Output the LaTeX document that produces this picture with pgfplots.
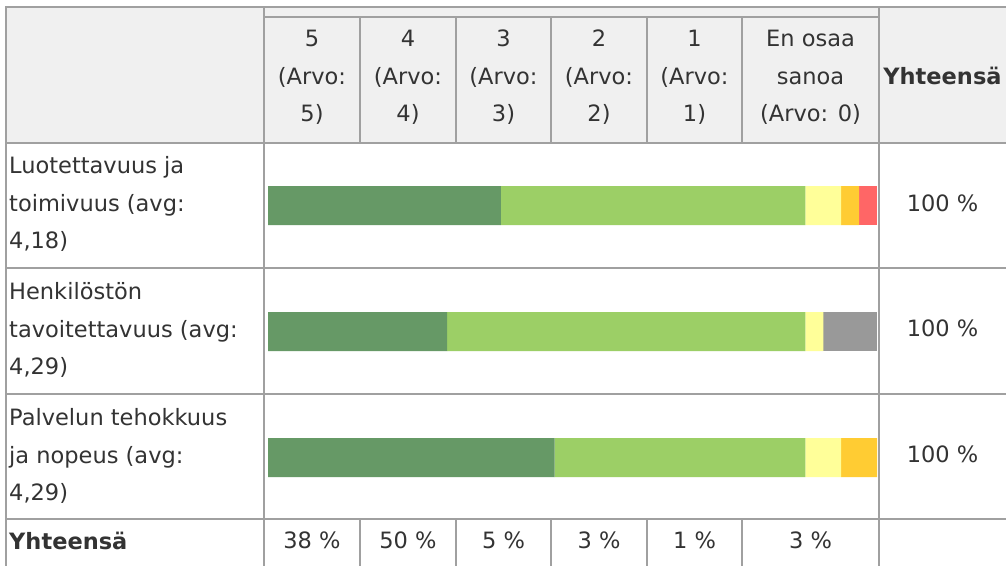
\documentclass[border=0pt]{standalone}
\usepackage{pgfplots}
\pgfplotsset{compat=1.18}
\usepackage{fontspec}
\setmainfont{DejaVu Sans}
\definecolor{c5}{HTML}{669966}
\definecolor{c4}{HTML}{9CCF66}
\definecolor{c3}{HTML}{FFFF99}
\definecolor{c2}{HTML}{FFCC33}
\definecolor{c1}{HTML}{FF6666}
\definecolor{c0}{HTML}{999999}
\definecolor{gridc}{HTML}{A0A0A0}
\definecolor{headbg}{HTML}{F0F0F0}
\definecolor{txt}{HTML}{333333}
\begin{document}
\begin{tikzpicture}
\useasboundingbox (0,0) rectangle (1006pt,-566pt);
\begin{scope}[x=1pt,y=-1pt]
\fill[white] (0,0) rectangle (1006,566);
\fill[headbg] (6,7) rectangle (1006,142.5);
\end{scope}
\begin{axis}[at={(268pt,-142.5pt)}, anchor=north west, scale only axis,
  width=609pt, height=378pt, xmin=0, xmax=100, ymin=0.5, ymax=3.5,
  y dir=reverse, xbar stacked, bar width=39pt, hide axis, enlargelimits=false, clip=false]
\addplot[fill=c5, draw=none] coordinates {(38.235,1) (29.412,2) (47.059,3)};
\addplot[fill=c4, draw=none] coordinates {(50.000,1) (58.824,2) (41.176,3)};
\addplot[fill=c3, draw=none] coordinates {(5.882,1) (2.941,2) (5.882,3)};
\addplot[fill=c2, draw=none] coordinates {(2.941,1) (0,2) (5.882,3)};
\addplot[fill=c1, draw=none] coordinates {(2.941,1) (0,2) (0,3)};
\addplot[fill=c0, draw=none] coordinates {(0,1) (8.824,2) (0,3)};
\end{axis}
\begin{scope}[x=1pt,y=-1pt]
\tikzset{t/.style={font=\fontsize{22.5}{37.5}\selectfont, text=txt, inner sep=0pt, anchor=base},
         l/.style={t, anchor=base west}}
% grid
\begin{scope}[gridc, line width=2pt]
\draw (6,7) -- (1006,7);
\draw (264,17) -- (879,17);
\draw (6,142.5) -- (1006,142.5);
\draw (6,268) -- (1006,268);
\draw (6,393.5) -- (1006,393.5);
\draw (6,519) -- (1006,519);
\draw (6,6) -- (6,566);
\draw (264,6) -- (264,566);
\draw (879,6) -- (879,566);
\foreach \x in {360,456,551,647,742}{
  \draw (\x,17) -- (\x,142.5);
  \draw (\x,519) -- (\x,566);
}
\end{scope}
% header
\foreach \x/\a/\b in {312/5/5), 408/4/4), 503.5/3/3), 599/2/2), 694.5/1/1)}{
  \node[t] at (\x,46) {\a};
  \node[t] at (\x,84) {(Arvo:};
  \node[t] at (\x,121) {\b};
}
\node[t] at (810.5,46) {En osaa};
\node[t] at (810.5,84) {sanoa};
\node[t] at (810.5,121) {(Arvo: 0)};
\node[t, font=\fontsize{22.5}{37.5}\selectfont\bfseries] at (942.5,84) {Yhteensä};
% row labels
\node[l] at (9,173) {Luotettavuus ja};
\node[l] at (9,211) {toimivuus (avg:};
\node[l] at (9,248.5) {4,18)};
\node[l] at (9,299) {Henkilöstön};
\node[l] at (9,337) {tavoitettavuus (avg:};
\node[l] at (9,374.5) {4,29)};
\node[l] at (9,425) {Palvelun tehokkuus};
\node[l] at (9,463) {ja nopeus (avg:};
\node[l] at (9,500.5) {4,29)};
\node[l, font=\fontsize{22.5}{37.5}\selectfont\bfseries] at (9,549) {Yhteensä};
% totals
\node[t] at (942.5,211) {100 \%};
\node[t] at (942.5,336) {100 \%};
\node[t] at (942.5,462) {100 \%};
\foreach \x/\v in {312/38, 408/50, 503.5/5, 599/3, 694.5/1, 810.5/3}{
  \node[t] at (\x,548) {\v\ \%};
}
\end{scope}
\end{tikzpicture}
\end{document}
